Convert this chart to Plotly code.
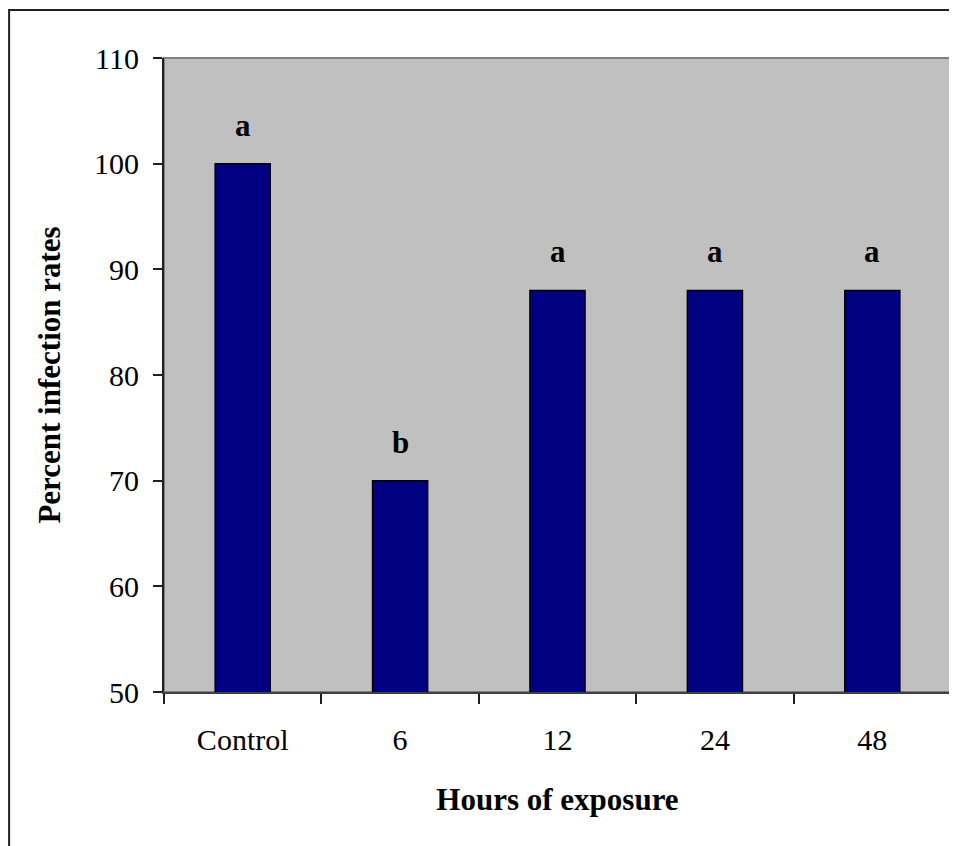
import plotly.graph_objects as go

categories = ["Control", "6", "12", "24", "48"]
infection_rates = [100, 70, 88, 88, 88]
letters = ["a", "b", "a", "a", "a"]
y_ticks = [50, 60, 70, 80, 90, 100, 110]

# the page body has an 8px margin, so the figure starts at (8, 8)
W, H = 949, 838
L, R, T, B = 156, 5.5, 49.5, 154.3
pw = W - L - R
ph = H - T - B

fig = go.Figure()
fig.add_trace(go.Bar(
    x=categories, y=infection_rates, width=0.35,
    marker=dict(color="#000080", line=dict(color="black", width=1.5)),
    showlegend=False, hoverinfo="x+y",
))

for i, (v, s) in enumerate(zip(infection_rates, letters)):
    fig.add_annotation(x=i, y=v, xref="x", yref="y", text="<b>%s</b>" % s, showarrow=False,
                       yanchor="bottom", yshift=19,
                       font=dict(family="Liberation Serif", size=31, color="black"))

# plot area frame (grey top/right)
fig.add_shape(type="rect", xref="paper", yref="paper", x0=0, x1=1, y0=0, y1=1,
              line=dict(color="#808080", width=2), layer="below")
# outer chart frame (left & top visible)
fig.add_shape(type="rect", xref="paper", yref="paper",
              x0=(1 - L) / pw, x1=(W + 20 - L) / pw,
              y0=-(H + 20 - T - ph) / ph, y1=(H - B - 1.5) / ph,
              line=dict(color="#202020", width=2), fillcolor="rgba(0,0,0,0)", layer="above")

fig.update_layout(
    width=W, height=H,
    margin=dict(l=L, r=R, t=T, b=B, autoexpand=False),
    paper_bgcolor="white", plot_bgcolor="#C0C0C0",
    font=dict(family="Liberation Serif", size=30, color="black"),
    xaxis=dict(
        type="category", range=[-0.5, 4.5], showgrid=False, zeroline=False,
        showline=True, linecolor="#404040", linewidth=2,
        ticks="outside", tickson="boundaries", ticklen=10, tickcolor="#202020", tickwidth=1.5,
        tickangle=0, ticklabelstandoff=20,
        title=dict(text="<b>Hours of exposure</b>", font=dict(size=31), standoff=33),
    ),
    yaxis=dict(
        range=[50, 110], tickvals=y_ticks, showgrid=False, zeroline=False,
        showline=True, linecolor="#202020", linewidth=2,
        ticks="outside", ticklen=9, tickcolor="#202020", tickwidth=1.5,
        ticklabelstandoff=8,
        title=dict(text="<b>Percent infection rates</b>", font=dict(size=31), standoff=24),
    ),
)

fig.write_html("out.html")
